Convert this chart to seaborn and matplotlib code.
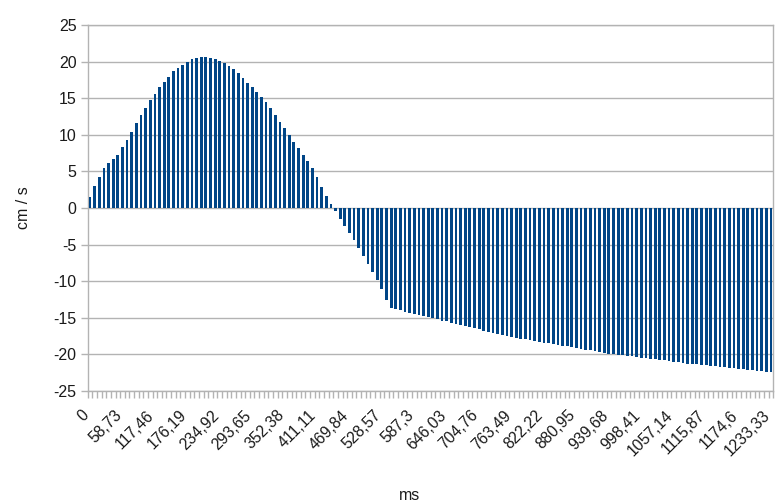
import numpy as np
import pandas as pd
import matplotlib
matplotlib.use("Agg")
import matplotlib.pyplot as plt
import seaborn as sns

# velocity (cm/s) per sample
velocity_rise = [1.5, 3.0, 4.3, 5.4, 6.1, 6.7, 7.3, 8.3, 9.3, 10.4,
                 11.6, 12.7, 13.7, 14.7, 15.6, 16.5, 17.2, 17.9, 18.7, 19.1]
velocity_peak = [19.5, 20.0, 20.3, 20.5, 20.6, 20.6, 20.5, 20.3, 20.1, 19.8,
                 19.4, 19.0, 18.4, 17.8, 17.1, 16.5, 15.8]
velocity_fall = [15.2, 14.5, 13.6, 12.7, 11.8, 10.9, 10.0, 9.0, 8.2, 7.3,
                 6.4, 5.4, 4.2, 2.9, 1.7, 0.6]
velocity_drop = [-0.4, -1.5, -2.5, -3.4, -4.4, -5.5, -6.6, -7.6, -8.7, -9.9,
                 -11.1, -12.6, -13.6, -13.8, -14.0, -14.15, -14.3]
velocity_tail = [-14.5, -14.65, -14.8, -14.9, -15.05, -15.2, -15.4, -15.5, -15.7, -15.85,
                 -16.0, -16.1, -16.25, -16.4, -16.55, -16.8, -16.95, -17.1, -17.25, -17.4,
                 -17.5, -17.6, -17.75, -17.9, -17.95, -18.1, -18.15, -18.3, -18.45, -18.5,
                 -18.6, -18.7, -18.85, -18.9, -19.05, -19.15, -19.3, -19.4, -19.45, -19.6,
                 -19.7, -19.75, -19.9, -20.0, -20.05, -20.1, -20.2, -20.2, -20.3, -20.45,
                 -20.5, -20.6, -20.65, -20.75, -20.8, -20.9, -21.0, -21.1, -21.15, -21.25,
                 -21.3, -21.35, -21.45, -21.5, -21.55, -21.65, -21.7, -21.75, -21.8, -21.85,
                 -21.95, -22.05, -22.1, -22.15, -22.25, -22.3, -22.35, -22.4]
velocity = velocity_rise + velocity_peak + velocity_fall + velocity_drop + velocity_tail

ms_step = 8.39
sample_ms = [round(i * ms_step, 2) for i in range(len(velocity))]
tick_every = 7
tick_labels = ["0", "58,73", "117,46", "176,19", "234,92", "293,65", "352,38",
               "411,11", "469,84", "528,57", "587,3", "646,03", "704,76", "763,49",
               "822,22", "880,95", "939,68", "998,41", "1057,14", "1115,87",
               "1174,6", "1233,33"]

sns.set_theme(style="white")
plt.rcParams["font.family"] = ["Liberation Sans", "DejaVu Sans"]
plt.rcParams["axes.unicode_minus"] = False

fig = plt.figure(figsize=(7.75, 5.04), dpi=100)
ax = fig.add_axes([0.1132, 0.2242, 0.8846, 0.7262])

df = pd.DataFrame({"cat": [str(m) for m in sample_ms], "v": velocity})
sns.barplot(data=df, x="cat", y="v", order=list(df["cat"]), color="#004586",
            saturation=1, width=0.6, linewidth=0, ax=ax, zorder=3)

grid_c = "#b3b3b3"
ax.set_ylim(-25, 25)
ax.set_yticks(np.arange(-25, 26, 5))
ax.yaxis.grid(True, color=grid_c, linewidth=1, zorder=0)
ax.xaxis.grid(False)
ax.set_axisbelow(True)
ax.set_xlim(-0.5, len(velocity) - 0.5)

major = list(range(0, len(velocity), tick_every))[:len(tick_labels)]
ax.set_xticks(major)
ax.set_xticklabels(tick_labels, rotation=45, ha="right", va="baseline",
                   rotation_mode="anchor", fontsize=11.3, color="#1a1a1a")
ax.set_xticks(np.arange(-0.5, len(velocity), 1), minor=True)
ax.tick_params(axis="x", which="major", length=0, pad=18)
ax.tick_params(axis="x", which="minor", length=5, color=grid_c, width=1, bottom=True)
ax.tick_params(axis="y", which="major", length=5, color=grid_c, width=1, left=True,
               labelsize=11.5, labelcolor="#1a1a1a", pad=3)

for s in ax.spines.values():
    s.set_color(grid_c)
    s.set_linewidth(1)

ax.set_xlabel("ms", fontsize=11.5, color="#1a1a1a")
ax.set_ylabel("cm / s", fontsize=11.5, color="#1a1a1a")
ax.xaxis.set_label_coords(0.470, -0.286)
ax.xaxis.label.set_va("center")
ax.yaxis.set_label_coords(-0.093, 0.5)
ax.yaxis.label.set_va("center")

fig.savefig("out.png", dpi=100)
